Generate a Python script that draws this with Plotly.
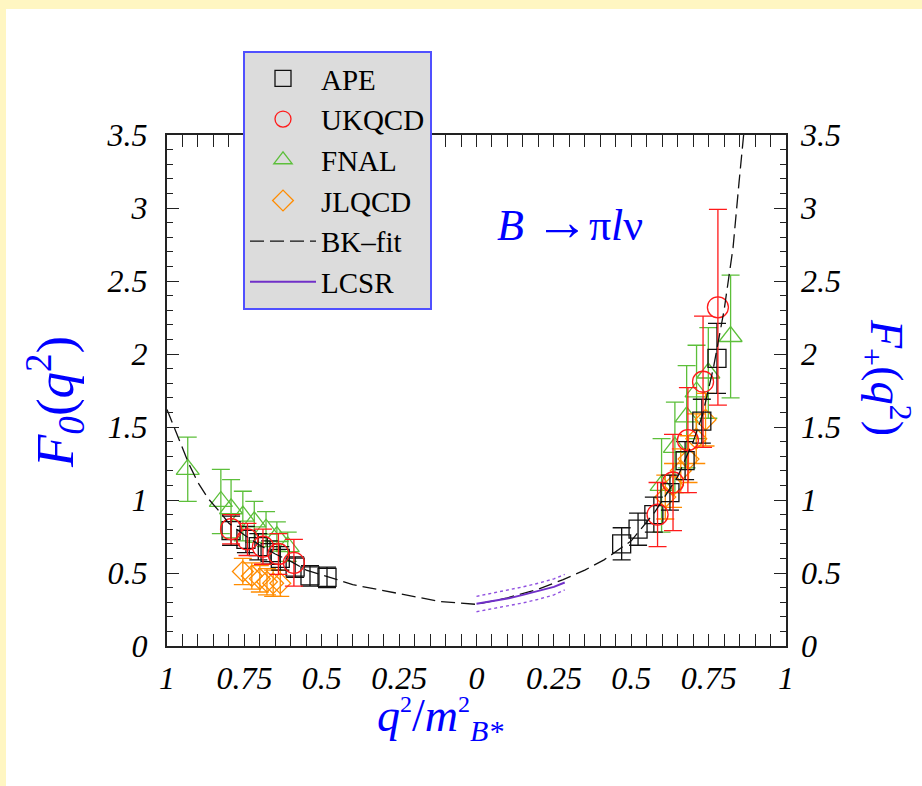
import plotly.graph_objects as go

# ---------------- data ----------------
# F0 side (plotted mirrored at -q^2/m^2)
ape_f0_q2 = [0.793, 0.745, 0.705, 0.667, 0.634, 0.586, 0.538, 0.483]
ape_f0 = [0.79, 0.73, 0.68, 0.64, 0.60, 0.54, 0.48, 0.47]
ape_f0_err = [0.10, 0.09, 0.09, 0.08, 0.08, 0.07, 0.07, 0.07]

ukqcd_f0_q2 = [0.793, 0.740, 0.690, 0.640, 0.590]
ukqcd_f0 = [0.80, 0.73, 0.68, 0.63, 0.57]
ukqcd_f0_err = [0.10, 0.11, 0.12, 0.14, 0.16]

fnal_f0_q2 = [0.933, 0.826, 0.793, 0.755, 0.718, 0.680, 0.645, 0.610]
fnal_f0 = [1.21, 0.99, 0.94, 0.89, 0.85, 0.80, 0.75, 0.68]
fnal_f0_err = [0.22, 0.22, 0.20, 0.17, 0.14, 0.12, 0.10, 0.10]

jlqcd_f0_q2 = [0.755, 0.726, 0.700, 0.677, 0.657, 0.634]
jlqcd_f0 = [0.51, 0.48, 0.46, 0.44, 0.43, 0.43]
jlqcd_f0_err = [0.09, 0.09, 0.09, 0.09, 0.09, 0.09]

# F+ side
ape_fp_q2 = [0.469, 0.522, 0.573, 0.625, 0.674, 0.728, 0.777]
ape_fp = [0.70, 0.80, 0.90, 1.05, 1.27, 1.54, 1.97]
ape_fp_err = [0.11, 0.11, 0.12, 0.12, 0.13, 0.15, 0.24]

ukqcd_fp_q2 = [0.585, 0.635, 0.683, 0.732, 0.780]
ukqcd_fp = [0.90, 1.12, 1.41, 1.81, 2.32]
ukqcd_fp_err = [0.22, 0.33, 0.36, 0.45, 0.67]

fnal_fp_q2 = [0.598, 0.641, 0.679, 0.711, 0.749, 0.821]
fnal_fp = [1.10, 1.36, 1.57, 1.74, 1.87, 2.12]
fnal_fp_err = [0.32, 0.31, 0.35, 0.32, 0.31, 0.42]

jlqcd_fp_q2 = [0.610, 0.635, 0.660, 0.685, 0.710, 0.740]
jlqcd_fp = [1.02, 1.10, 1.20, 1.28, 1.42, 1.55]
jlqcd_fp_err = [0.15, 0.15, 0.15, 0.16, 0.17, 0.18]

# BK fit curve
bk_f0_q2 = [1.0, 0.965, 0.93, 0.9, 0.867, 0.83, 0.8, 0.75, 0.7, 0.65, 0.6, 0.55,
            0.5, 0.45, 0.4, 0.3, 0.247, 0.2, 0.118, 0.0]
bk_f0 = [1.62, 1.43, 1.25, 1.12, 1.01, 0.92, 0.84, 0.76, 0.69, 0.63, 0.58, 0.52,
         0.49, 0.455, 0.42, 0.38, 0.355, 0.335, 0.305, 0.285]
bk_fp_q2 = [0.0, 0.1, 0.2, 0.28, 0.35, 0.412, 0.5, 0.577, 0.65, 0.7, 0.73,
            0.765, 0.8, 0.829, 0.848, 0.864]
bk_fp = [0.285, 0.33, 0.39, 0.455, 0.52, 0.59, 0.72, 0.92, 1.16, 1.40, 1.58,
         1.90, 2.30, 2.73, 3.17, 3.52]

# LCSR
lcsr_q2 = [0.0, 0.05, 0.1, 0.15, 0.2, 0.25, 0.285]
lcsr = [0.29, 0.305, 0.325, 0.35, 0.375, 0.405, 0.435]
lcsr_up = [0.34, 0.36, 0.38, 0.405, 0.43, 0.46, 0.49]
lcsr_lo = [0.235, 0.255, 0.27, 0.295, 0.32, 0.35, 0.385]

x_tickvals = [-1, -0.75, -0.5, -0.25, 0, 0.25, 0.5, 0.75, 1]
x_ticktext = ["1", "0.75", "0.5", "0.25", "0", "0.25", "0.5", "0.75", "1"]
y_tickvals = [0, 0.5, 1, 1.5, 2, 2.5, 3, 3.5]
y_ticktext = ["0", "0.5", "1", "1.5", "2", "2.5", "3", "3.5"]

# ---------------- figure ----------------
W, H = 922, 786
L, R, T, B = 167, 136, 135, 140
PW, PH = W - L - R, H - T - B


def px2x(px):
    return (px - L) / PW


def px2y(py):
    return (H - B - py) / PH


SERIF = "Liberation Serif"
BLACK = "#111111"
RED = "#ff1a1a"
GREEN = "#5cbf3a"
ORANGE = "#ff8c00"
PURPLE = "#7030c8"
BLUE = "#0000ff"

fig = go.Figure()


def add_set(name, q2a, va, ea, q2b, vb, eb, symbol, color, size, rank):
    xs = [-q for q in q2a] + [None] + list(q2b)
    ys = list(va) + [None] + list(vb)
    es = list(ea) + [None] + list(eb)
    fig.add_trace(go.Scatter(
        x=xs, y=ys, mode="markers", name=name, legendrank=rank,
        marker=dict(symbol=symbol, size=size, color=color,
                    line=dict(width=1.3, color=color)),
        error_y=dict(type="data", array=es, color=color, thickness=1.3, width=9),
    ))


add_set("FNAL", fnal_f0_q2, fnal_f0, fnal_f0_err, fnal_fp_q2, fnal_fp, fnal_fp_err,
        "triangle-up-open", GREEN, 20, 3)
add_set("JLQCD", jlqcd_f0_q2, jlqcd_f0, jlqcd_f0_err, jlqcd_fp_q2, jlqcd_fp, jlqcd_fp_err,
        "diamond-open", ORANGE, 16, 4)
add_set("APE", ape_f0_q2, ape_f0, ape_f0_err, ape_fp_q2, ape_fp, ape_fp_err,
        "square-open", BLACK, 18, 1)
add_set("UKQCD", ukqcd_f0_q2, ukqcd_f0, ukqcd_f0_err, ukqcd_fp_q2, ukqcd_fp, ukqcd_fp_err,
        "circle-open", RED, 21, 2)

bk_x = [-q for q in bk_f0_q2] + list(bk_fp_q2)
bk_y = list(bk_f0) + list(bk_fp)
fig.add_trace(go.Scatter(x=bk_x, y=bk_y, mode="lines", name="BK\u2013fit", legendrank=5,
                         line=dict(color=BLACK, width=1.3, dash="14px,6px")))

fig.add_trace(go.Scatter(x=lcsr_q2, y=lcsr_up, mode="lines", showlegend=False,
                         line=dict(color="#9050e0", width=1.4, dash="dot")))
fig.add_trace(go.Scatter(x=lcsr_q2, y=lcsr_lo, mode="lines", showlegend=False,
                         line=dict(color="#9050e0", width=1.4, dash="dot")))
fig.add_trace(go.Scatter(x=lcsr_q2, y=lcsr, mode="lines", name="LCSR", legendrank=6,
                         line=dict(color=PURPLE, width=2)))

# invisible trace to carry the right-hand axis
fig.add_trace(go.Scatter(x=[0], y=[0], yaxis="y2", mode="markers", showlegend=False,
                         marker=dict(opacity=0), hoverinfo="skip"))

tickfont = dict(family=SERIF, size=32, color="#000000", style="italic")
axis_common = dict(showgrid=False, zeroline=False, showline=True, linecolor="#222222",
                   linewidth=2, ticks="inside", ticklen=12, tickwidth=1.3,
                   tickcolor="#222222", tickfont=tickfont)

fig.update_layout(
    width=W, height=H,
    margin=dict(l=L, r=R, t=T, b=B),
    paper_bgcolor="white", plot_bgcolor="white",
    xaxis=dict(range=[-1, 1], tickmode="array", tickvals=x_tickvals, ticktext=x_ticktext,
               mirror="allticks", ticklabelstandoff=3,
               minor=dict(dtick=0.05, tick0=0, ticks="inside", ticklen=6,
                          tickcolor="#222222", tickwidth=1.2),
               **axis_common),
    yaxis=dict(range=[0, 3.5], tickmode="array", tickvals=y_tickvals, ticktext=y_ticktext,
               mirror="allticks", ticklabelstandoff=11,
               minor=dict(dtick=0.1, tick0=0, ticks="inside", ticklen=6,
                          tickcolor="#222222", tickwidth=1.2),
               **axis_common),
    yaxis2=dict(range=[0, 3.5], overlaying="y", side="right", tickmode="array",
                tickvals=y_tickvals, ticktext=y_ticktext, showgrid=False, zeroline=False,
                showline=False, ticks="", ticklabelstandoff=14, tickfont=tickfont),
    legend=dict(x=px2x(243), y=px2y(51), xanchor="left", yanchor="top",
                bgcolor="#dcdcdc", bordercolor="#5050ff", borderwidth=2,
                font=dict(family=SERIF, size=29, color="#000000"),
                itemwidth=66, tracegroupgap=0),
    showlegend=True,
)

# yellow page frame (top and left bands)
fig.add_shape(type="rect", xref="paper", yref="paper", x0=px2x(0), x1=px2x(W),
              y0=px2y(9), y1=px2y(0), fillcolor="#fff6c2", line_width=0, layer="below")
fig.add_shape(type="rect", xref="paper", yref="paper", x0=px2x(0), x1=px2x(6),
              y0=px2y(H), y1=px2y(0), fillcolor="#fff6c2", line_width=0, layer="below")


def ann(text, px, py, size, angle=0):
    fig.add_annotation(text=text, x=px2x(px), y=px2y(py), xref="paper", yref="paper",
                       showarrow=False, textangle=angle, xanchor="center", yanchor="middle",
                       font=dict(family=SERIF, size=size, color=BLUE))


ann("<i>B</i> <span style='font-size:54px'>\u2192</span>\u03c0<i>l</i>\u03bd", 570, 222, 44)
ann("<i>F</i><sub><i>0</i></sub>(<i>q</i><sup>2</sup>)", 55, 402, 53, angle=-90)
ann("<i>F</i><sub>+</sub>(<i>q</i><sup>2</sup>)", 887, 377, 46, angle=90)
ann("<i>q</i><sup><span style='font-size:24px'>2</span></sup>/<i>m</i>"
    "<sup><span style='font-size:24px'>2</span></sup>"
    "<sub><span style='font-size:30px'><i>B*</i></span></sub>", 440, 718, 46)

fig.write_html("out.html", config={"displayModeBar": False},
               post_script="document.body.style.margin='0px';")
